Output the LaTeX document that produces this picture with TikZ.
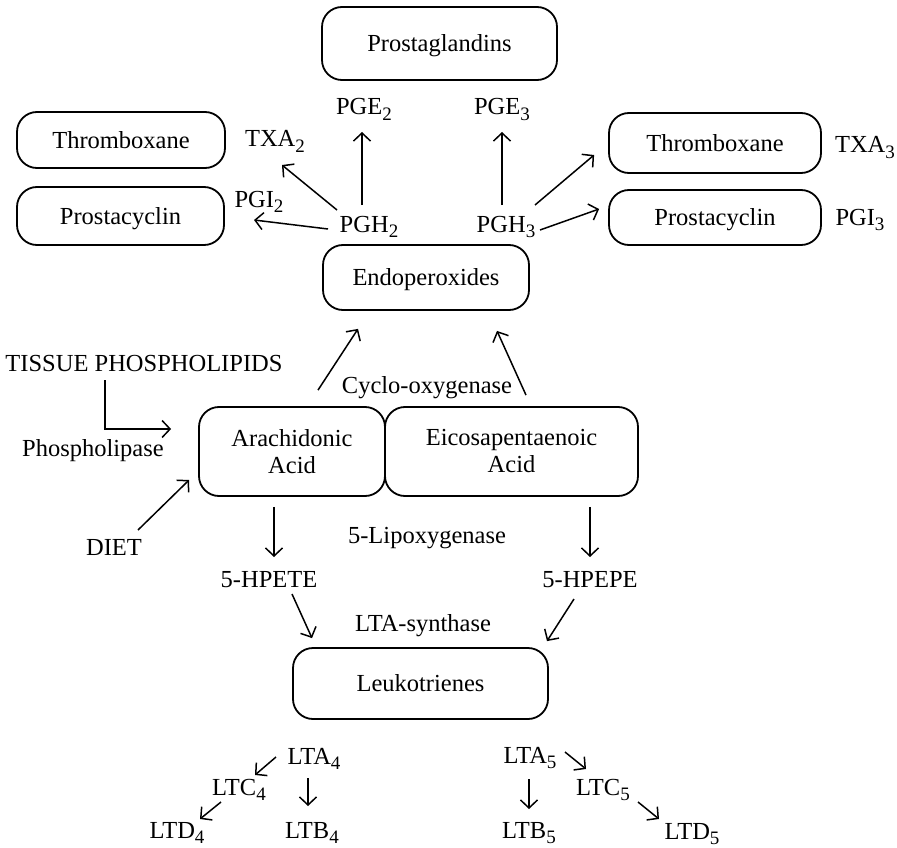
\documentclass[tikz,border=0pt]{standalone}
\usepackage{fontspec}
\setmainfont{Liberation Serif}
\usetikzlibrary{arrows.meta}
% lowered, smaller index for the compound names
\newcommand\chemsub[1]{\raisebox{-5.5pt}{\fontsize{19}{19}\selectfont #1}}
\begin{document}
\begin{tikzpicture}[x=1pt,y=-1pt,
  every node/.style={font=\fontsize{24.5}{27}\selectfont},
  box/.style={draw, line width=1.8pt, rounded corners=20pt, inner sep=0pt,
              text height=16.5pt, text depth=0pt},
  box2/.style={draw, line width=1.8pt, rounded corners=20pt, inner sep=0pt, align=center},
  lbl/.style={inner sep=0pt, anchor=base},
  arr/.style={line width=1.5pt, -{Straight Barb[length=8pt,width=17pt]}}]
\useasboundingbox (0,0) rectangle (897,848);

% ---- boxes ----
\node[box, minimum width=235pt, minimum height=73pt] (pg)   at (439.5,43.5) {Prostaglandins};
\node[box, minimum width=208pt, minimum height=56pt] (thxL) at (121,140)    {Thromboxane};
\node[box, minimum width=207pt, minimum height=58pt] (pcyL) at (120.5,216)  {Prostacyclin};
\node[box, minimum width=206pt, minimum height=65pt] (endo) at (426,277.5)  {Endoperoxides};
\node[box, minimum width=212pt, minimum height=60pt] (thxR) at (715,143)    {Thromboxane};
\node[box, minimum width=212pt, minimum height=55pt] (pcyR) at (715,217.5)  {Prostacyclin};
\node[box2, minimum width=186pt, minimum height=89pt] (aa)  at (292,451.5)  {Arachidonic\\Acid};
\node[box2, minimum width=253pt, minimum height=89pt] (epa) at (511.5,451.5) {Eicosapentaenoic\\Acid};
\node[box, minimum width=255pt, minimum height=71pt] (lt)   at (420.5,683.5) {Leukotrienes};

% ---- labels ----
\node[lbl] (pge2) at (364,115) {PGE\chemsub{2}};
\node[lbl] (pge3) at (502,115) {PGE\chemsub{3}};
\node[lbl] (txa2) at (275,147) {TXA\chemsub{2}};
\node[lbl] (pgi2) at (259,207) {PGI\chemsub{2}};
\node[lbl] (pgh2) at (369,232) {PGH\chemsub{2}};
\node[lbl] (pgh3) at (506,232) {PGH\chemsub{3}};
\node[lbl] (txa3) at (865,153) {TXA\chemsub{3}};
\node[lbl] (pgi3) at (860,225) {PGI\chemsub{3}};
\node[lbl] (tissue) at (144,371) {TISSUE PHOSPHOLIPIDS};
\node[lbl] (phosph) at (93,456)  {Phospholipase};
\node[lbl] (diet)   at (114,555) {DIET};
\node[lbl] (cox)    at (427,393) {Cyclo-oxygenase};
\node[lbl] (lox)    at (427,543) {5-Lipoxygenase};
\node[lbl] (hpete)  at (269,587) {5-HPETE};
\node[lbl] (hpepe)  at (590,587) {5-HPEPE};
\node[lbl] (ltas)   at (423,631) {LTA-synthase};
\node[lbl] (lta4) at (314,764) {LTA\chemsub{4}};
\node[lbl] (lta5) at (530,763) {LTA\chemsub{5}};
\node[lbl] (ltc4) at (239,795) {LTC\chemsub{4}};
\node[lbl] (ltc5) at (603,795) {LTC\chemsub{5}};
\node[lbl] (ltd4) at (177,838) {LTD\chemsub{4}};
\node[lbl] (ltb4) at (312,838) {LTB\chemsub{4}};
\node[lbl] (ltb5) at (529,838) {LTB\chemsub{5}};
\node[lbl] (ltd5) at (692,839) {LTD\chemsub{5}};

% ---- endoperoxide branches ----
\draw[arr] ([shift={(-7,-27)}]pgh2.base) -- ([shift={(-2,17)}]pge2.base);
\draw[arr] ([shift={(-32,-22)}]pgh2.base) -- ([shift={(7,18)}]txa2.base);
\draw[arr] ([shift={(-41,-3)}]pgh2.base) -- ([shift={(-5,13)}]pgi2.base);
\draw[arr] ([shift={(-4,-27)}]pgh3.base) -- ([shift={(0,17)}]pge3.base);
\draw[arr] ([shift={(29,-27)}]pgh3.base) -- ([shift={(-14,12)}]thxR.west);
\draw[arr] ([shift={(34,-2)}]pgh3.base) -- ([shift={(-9,-8.5)}]pcyR.west);

% ---- cyclo-oxygenase ----
\draw[arr] ([shift={(26,-16)}]aa.north) -- ([shift={(-68,18)}]endo.south);
\draw[arr] ([shift={(14.5,-11)}]epa.north) -- ([shift={(71,20)}]endo.south);

% ---- sources ----
\draw[arr] ([shift={(-39,9)}]tissue.base) |- ([shift={(-27,-22.5)}]aa.west);
\draw[arr] ([shift={(24,-25)}]diet.base) -- ([shift={(-9,28.5)}]aa.west);

% ---- lipoxygenase ----
\draw[arr] ([shift={(-18,10)}]aa.south) -- ([shift={(5,-30)}]hpete.base);
\draw[arr] ([shift={(78.5,10)}]epa.south) -- ([shift={(0,-30)}]hpepe.base);
\draw[arr] ([shift={(23,7)}]hpete.base) -- ([shift={(-108.5,-9)}]lt.north);
\draw[arr] ([shift={(-16,12)}]hpepe.base) -- ([shift={(126.5,-6)}]lt.north);

% ---- leukotriene series ----
\draw[arr] ([shift={(-38,-7)}]lta4.base) -- ([shift={(16,-20)}]ltc4.base);
\draw[arr] ([shift={(-18,7)}]ltc4.base) -- ([shift={(23,-19)}]ltd4.base);
\draw[arr] ([shift={(-6,14)}]lta4.base) -- ([shift={(-4,-32)}]ltb4.base);
\draw[arr] ([shift={(35,-11)}]lta5.base) -- ([shift={(-17,-26)}]ltc5.base);
\draw[arr] ([shift={(-1,16)}]lta5.base) -- ([shift={(0,-29)}]ltb5.base);
\draw[arr] ([shift={(35,7)}]ltc5.base) -- ([shift={(-33,-20)}]ltd5.base);
\end{tikzpicture}
\end{document}
